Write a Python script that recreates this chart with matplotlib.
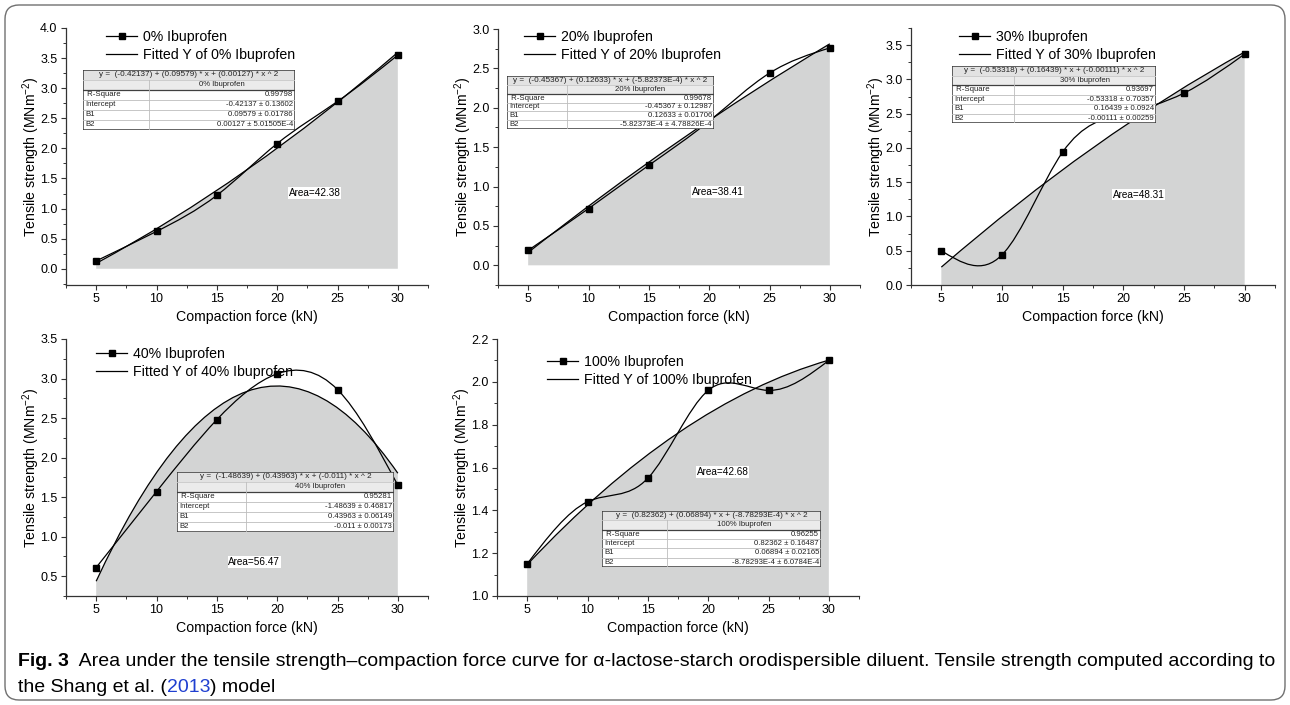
import matplotlib
matplotlib.use('Agg')
import matplotlib.pyplot as plt
from matplotlib.path import Path
from matplotlib.patches import PathPatch, Rectangle, FancyBboxPatch
from matplotlib.lines import Line2D
from matplotlib.ticker import MultipleLocator
from matplotlib.transforms import IdentityTransform
import numpy as np

# data
force = [5, 10, 15, 20, 25, 30]
ts_0 = [0.13, 0.62, 1.22, 2.08, 2.78, 3.55]
ts_20 = [0.19, 0.72, 1.27, 1.83, 2.44, 2.76]
ts_30 = [0.50, 0.44, 1.94, 2.50, 2.80, 3.37]
ts_40 = [0.61, 1.57, 2.48, 3.06, 2.86, 1.65]
ts_100 = [1.15, 1.44, 1.55, 1.96, 1.96, 2.10]

labels = ['0%', '20%', '30%', '40%', '100%']
# quadratic fit coefficients as printed (intercept, B1, B2)
coef_0 = ['-0.42137', '0.09579', '0.00127']
coef_20 = ['-0.45367', '0.12633', '-5.82373E-4']
coef_30 = ['-0.53318', '0.16439', '-0.00111']
coef_40 = ['-1.48639', '0.43963', '-0.011']
coef_100 = ['0.82362', '0.06894', '-8.78293E-4']
r_square = ['0.99798', '0.99678', '0.93697', '0.95281', '0.96255']
intercept_err = ['0.13602', '0.12987', '0.70357', '0.46817', '0.16487']
b1_err = ['0.01786', '0.01706', '0.0924', '0.06149', '0.02165']
b2_err = ['5.01505E-4', '4.78826E-4', '0.00259', '0.00173', '6.0784E-4']
areas = ['42.38', '38.41', '48.31', '56.47', '42.68']

series = [ts_0, ts_20, ts_30, ts_40, ts_100]
coefs = [coef_0, coef_20, coef_30, coef_40, coef_100]

# layout (pixels, origin top-left)
W, H = 1290, 705
axes_box = [(66, 28, 428, 285), (498, 29, 860, 285), (911, 28, 1275, 285),
            (66, 339, 428, 596), (497, 339, 859, 596)]
ylims = [(-0.27, 4.0), (-0.25, 3.0), (0, 3.75), (0.25, 3.5), (1.0, 2.2)]
ytick_rng = [(0, 4.0, 0.5), (0, 3.0, 0.5), (0, 3.5, 0.5), (0.5, 3.5, 0.5), (1.0, 2.2, 0.2)]
table_box = [(83, 70, 295, 130), (507, 76, 714, 129), (952, 66, 1156, 123),
             (177, 472, 394, 532), (602, 511, 821, 567)]
table_split = [149, 567, 1014, 246, 667]
legend_at = [(106, 30), (524, 30), (959, 30), (96, 347), (547, 355)]
area_at = [(23.1, 1.26), (20.7, 0.93), (21.25, 1.32), (18.1, 0.68), (21.2, 1.58)]

plt.rcParams['font.family'] = ['Liberation Sans', 'DejaVu Sans']
plt.rcParams['mathtext.default'] = 'regular'

fig = plt.figure(figsize=(W / 100, H / 100), dpi=100)


def px_rect(l, t, r, b):
    return [l / W, 1 - b / H, (r - l) / W, (b - t) / H]


def spline_path(x, y):
    # natural cubic spline through the points, drawn as bezier segments
    x = np.asarray(x, float)
    y = np.asarray(y, float)
    n = len(x)
    h = x[1] - x[0]
    A = np.zeros((n, n))
    rhs = np.zeros(n)
    A[0, 0] = A[-1, -1] = 1
    for i in range(1, n - 1):
        A[i, i - 1], A[i, i], A[i, i + 1] = 1, 4, 1
        rhs[i] = 6 / h ** 2 * (y[i - 1] - 2 * y[i] + y[i + 1])
    M = np.linalg.solve(A, rhs)
    s = np.zeros(n)
    for i in range(n - 1):
        s[i] = (y[i + 1] - y[i]) / h - h * (2 * M[i] + M[i + 1]) / 6
    s[-1] = (y[-1] - y[-2]) / h + h * (M[-2] + 2 * M[-1]) / 6
    verts = [(x[0], y[0])]
    codes = [Path.MOVETO]
    for i in range(n - 1):
        verts += [(x[i] + h / 3, y[i] + s[i] * h / 3),
                  (x[i + 1] - h / 3, y[i + 1] - s[i + 1] * h / 3),
                  (x[i + 1], y[i + 1])]
        codes += [Path.CURVE4] * 3
    return Path(verts, codes)


def fit_path(coef, x0, x1, base=None):
    a, b, c = [float(v) for v in coef]
    f0 = a + b * x0 + c * x0 ** 2
    f1 = a + b * x1 + c * x1 ** 2
    xm = (x0 + x1) / 2
    cy = f0 + (b + 2 * c * x0) * (xm - x0)
    if base is None:
        return Path([(x0, f0), (xm, cy), (x1, f1)], [Path.MOVETO, Path.CURVE3, Path.CURVE3])
    return Path([(x0, base), (x0, f0), (xm, cy), (x1, f1), (x1, base), (x0, base)],
                [Path.MOVETO, Path.LINETO, Path.CURVE3, Path.CURVE3, Path.LINETO, Path.CLOSEPOLY])


def draw_table(box, split, coef, name, stats):
    l, t, r, b = box
    tab = fig.add_axes(px_rect(l, t, r, b), zorder=5)
    w, h = r - l, b - t
    tab.set_xlim(0, w)
    tab.set_ylim(h, 0)
    tab.axis('off')
    rh = h / 6
    sx = split - l
    tab.add_patch(Rectangle((0, 0), w, h, facecolor='white', edgecolor='none'))
    tab.add_patch(Rectangle((0, 0), w, rh, facecolor='#e2e2e2', edgecolor='none'))
    tab.add_patch(Rectangle((0, rh), w, rh, facecolor='#ebebeb', edgecolor='none'))
    for k in range(2, 6):
        tab.plot([0, w], [k * rh, k * rh], color='#bdbdbd' if k > 2 else '#404040', lw=0.6 if k > 2 else 0.9)
    tab.plot([0, w], [rh, rh], color='#c8c8c8', lw=0.6)
    tab.plot([sx, sx], [rh, h], color='#bdbdbd', lw=0.6)
    tab.add_patch(Rectangle((0, 0), w, h, facecolor='none', edgecolor='#3a3a3a', lw=1.1))
    fs = 5.6
    tab.text(w / 2, rh / 2, f'y =  ({coef[0]}) + ({coef[1]}) * x + ({coef[2]}) * x ^ 2',
             ha='center', va='center', fontsize=5.9, color='#222222')
    tab.text((sx + w) / 2, rh * 1.5, name, ha='center', va='center', fontsize=fs, color='#222222')
    left = [' R-Square', 'Intercept', 'B1', 'B2']
    right = [stats[0], f'{coef[0]} ± {stats[1]}', f'{coef[1]} ± {stats[2]}', f'{coef[2]} ± {stats[3]}']
    for k in range(4):
        yy = rh * (2.5 + k)
        tab.text(2, yy, left[k], ha='left', va='center', fontsize=fs, color='#222222')
        tab.text(w - 2, yy, right[k], ha='right', va='center', fontsize=fs, color='#222222')


for i in range(5):
    ax = fig.add_axes(px_rect(*axes_box[i]))
    ys = series[i]
    ax.add_patch(PathPatch(fit_path(coefs[i], force[0], force[-1], base=0), facecolor='#d3d4d4',
                           edgecolor='none', zorder=1))
    ax.add_patch(PathPatch(fit_path(coefs[i], force[0], force[-1]), facecolor='none',
                           edgecolor='black', lw=0.9, zorder=2))
    ax.add_patch(PathPatch(spline_path(force, ys), facecolor='none', edgecolor='black', lw=0.9, zorder=3))
    ax.plot(force, ys, 's', color='black', ms=5, zorder=4)
    ax.set_xlim(2.5, 32.5)
    ax.set_ylim(*ylims[i])
    lo, hi, st = ytick_rng[i]
    ax.set_yticks(np.arange(lo, hi + st / 2, st))
    ax.yaxis.set_minor_locator(MultipleLocator(st / 2))
    ax.set_xticks(force)
    ax.xaxis.set_minor_locator(MultipleLocator(2.5))
    for side in ['top', 'right']:
        ax.spines[side].set_visible(False)
    for side in ['left', 'bottom']:
        ax.spines[side].set_color('#333333')
        ax.spines[side].set_linewidth(0.9)
    ax.tick_params(which='major', direction='out', length=3.6, width=0.8, color='#333333',
                   labelsize=9, pad=2.5)
    ax.tick_params(which='minor', direction='out', length=2.2, width=0.7, color='#333333')
    ax.set_facecolor('none')
    ax.set_xlabel('Compaction force (kN)', fontsize=10.2, labelpad=3)
    ax.set_ylabel('Tensile strength (MNm$^{-2}$)', fontsize=10.2, labelpad=-1)
    ax.text(area_at[i][0], area_at[i][1], f'Area={areas[i]}', fontsize=7.2, ha='center', va='center',
            zorder=6, bbox=dict(facecolor='white', edgecolor='none', pad=0.6))
    name = f'{labels[i]} Ibuprofen'
    handles = [Line2D([], [], color='black', lw=0.9, marker='s', ms=5),
               Line2D([], [], color='black', lw=0.9)]
    lx, ly = legend_at[i]
    ax.legend(handles, [name, f'Fitted Y of {name}'], loc='upper left', frameon=False,
              bbox_to_anchor=(lx / W, 1 - ly / H), bbox_transform=fig.transFigure,
              fontsize=10.2, borderpad=0, borderaxespad=0, handlelength=2.2,
              handletextpad=0.42, labelspacing=0.25, numpoints=1)
    draw_table(table_box[i], table_split[i], coefs[i], name,
               [r_square[i], intercept_err[i], b1_err[i], b2_err[i]])

# outer rounded frame
frame = FancyBboxPatch((5, 5), 1280, 695, boxstyle='round,pad=0,rounding_size=14',
                       transform=IdentityTransform(), facecolor='none', edgecolor='#707070', lw=1)
fig.add_artist(frame)

# caption, built piece by piece so that 2013 can be blue
renderer = fig.canvas.get_renderer()


def chain(parts, x, y):
    for txt, weight, color in parts:
        t = fig.text(x / W, 1 - y / H, txt, fontsize=14, fontweight=weight, color=color,
                     ha='left', va='baseline')
        x = t.get_window_extent(renderer).x1
    return x


chain([('Fig. 3', 'bold', 'black'),
       ('  Area under the tensile strength–compaction force curve for α-lactose-starch orodispersible '
        'diluent. Tensile strength computed according to', 'normal', 'black')], 18, 666)
chain([('the Shang et al. (', 'normal', 'black'), ('2013', 'normal', '#1f3fd0'),
       (') model', 'normal', 'black')], 18, 692)

fig.savefig('out.png', dpi=100)
